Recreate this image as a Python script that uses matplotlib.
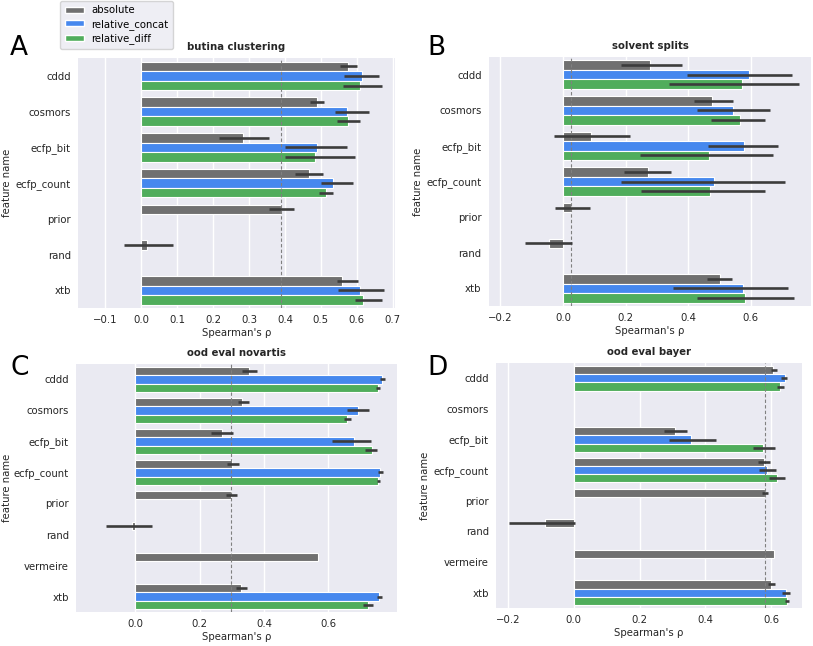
import numpy as np
import matplotlib
matplotlib.use("Agg")
import matplotlib.pyplot as plt
from matplotlib.patches import Patch

hues = ["absolute", "relative_concat", "relative_diff"]
colors = ["#707070", "#4688ee", "#50ad5c"]

# ---- panel A: butina clustering ----
cats_a = ["cddd", "cosmors", "ecfp_bit", "ecfp_count", "prior", "rand", "xtb"]
mean_a = {
    "absolute":        [0.574, 0.488, 0.283, 0.468, 0.389, 0.018, 0.559],
    "relative_concat": [0.614, 0.572, 0.488, 0.534, None, None, 0.609],
    "relative_diff":   [0.608, 0.575, 0.485, 0.514, None, None, 0.618],
}
lo_a = {
    "absolute":        [0.554, 0.471, 0.216, 0.429, 0.355, -0.046, 0.544],
    "relative_concat": [0.565, 0.540, 0.401, 0.500, None, None, 0.547],
    "relative_diff":   [0.561, 0.544, 0.401, 0.494, None, None, 0.596],
}
hi_a = {
    "absolute":        [0.600, 0.508, 0.356, 0.507, 0.425, 0.089, 0.603],
    "relative_concat": [0.662, 0.634, 0.572, 0.588, None, None, 0.674],
    "relative_diff":   [0.670, 0.608, 0.594, 0.534, None, None, 0.669],
}

# ---- panel B: solvent splits ----
cats_b = ["cddd", "cosmors", "ecfp_bit", "ecfp_count", "prior", "rand", "xtb"]
mean_b = {
    "absolute":        [0.278, 0.475, 0.089, 0.272, 0.027, -0.043, 0.501],
    "relative_concat": [0.595, 0.544, 0.577, 0.483, None, None, 0.574],
    "relative_diff":   [0.571, 0.564, 0.466, 0.469, None, None, 0.580],
}
lo_b = {
    "absolute":        [0.185, 0.417, -0.029, 0.195, -0.026, -0.121, 0.460],
    "relative_concat": [0.396, 0.427, 0.464, 0.185, None, None, 0.351],
    "relative_diff":   [0.339, 0.473, 0.245, 0.249, None, None, 0.428],
}
hi_b = {
    "absolute":        [0.379, 0.542, 0.215, 0.346, 0.085, 0.030, 0.540],
    "relative_concat": [0.731, 0.661, 0.685, 0.709, None, None, 0.718],
    "relative_diff":   [0.752, 0.646, 0.669, 0.646, None, None, 0.736],
}

# ---- panel C: ood eval novartis ----
cats_c = ["cddd", "cosmors", "ecfp_bit", "ecfp_count", "prior", "rand", "vermeire", "xtb"]
mean_c = {
    "absolute":        [0.354, 0.333, 0.269, 0.302, 0.299, -0.010, 0.569, 0.328],
    "relative_concat": [0.766, 0.691, 0.680, 0.760, None, None, None, 0.756],
    "relative_diff":   [0.753, 0.657, 0.734, 0.753, None, None, None, 0.722],
}
lo_c = {
    "absolute":        [0.331, 0.320, 0.237, 0.284, 0.283, -0.089, None, 0.313],
    "relative_concat": [0.760, 0.659, 0.612, 0.753, None, None, None, 0.749],
    "relative_diff":   [0.748, 0.647, 0.713, 0.749, None, None, None, 0.708],
}
hi_c = {
    "absolute":        [0.378, 0.352, 0.304, 0.324, 0.316, 0.054, None, 0.347],
    "relative_concat": [0.774, 0.727, 0.732, 0.769, None, None, None, 0.767],
    "relative_diff":   [0.760, 0.671, 0.752, 0.760, None, None, None, 0.738],
}

# ---- panel D: ood eval bayer ----
cats_d = ["cddd", "cosmors", "ecfp_bit", "ecfp_count", "prior", "rand", "vermeire", "xtb"]
mean_d = {
    "absolute":        [0.607, None, 0.309, 0.578, 0.582, -0.088, 0.610, 0.600],
    "relative_concat": [0.641, None, 0.357, 0.586, None, None, None, 0.646],
    "relative_diff":   [0.628, None, 0.575, 0.617, None, None, None, 0.647],
}
lo_d = {
    "absolute":        [0.598, None, 0.275, 0.560, 0.572, -0.197, None, 0.590],
    "relative_concat": [0.631, None, 0.290, 0.563, None, None, None, 0.634],
    "relative_diff":   [0.618, None, 0.544, 0.592, None, None, None, 0.641],
}
hi_d = {
    "absolute":        [0.619, None, 0.345, 0.597, 0.591, 0.003, None, 0.613],
    "relative_concat": [0.648, None, 0.433, 0.616, None, None, None, 0.658],
    "relative_diff":   [0.639, None, 0.611, 0.642, None, None, None, 0.654],
}

W, H = 813.0, 646.0
panels = [
    ("A", "butina clustering", cats_a, mean_a, lo_a, hi_a,
     [0.0959, 0.523, 0.390, 0.387], (-0.175, 0.706), [-0.1, 0.0, 0.1, 0.2, 0.3, 0.4, 0.5, 0.6, 0.7], 12),
    ("B", "solvent splits", cats_b, mean_b, lo_b, hi_b,
     [0.601, 0.526, 0.397, 0.386], (-0.237, 0.793), [-0.2, 0.0, 0.2, 0.4, 0.6], 423),
    ("C", "ood eval novartis", cats_c, mean_c, lo_c, hi_c,
     [0.0935, 0.0526, 0.395, 0.384], (-0.183, 0.813), [0.0, 0.2, 0.4, 0.6], 12),
    ("D", "ood eval bayer", cats_d, mean_d, lo_d, hi_d,
     [0.610, 0.059, 0.377, 0.379], (-0.237, 0.695), [-0.2, 0.0, 0.2, 0.4, 0.6], 430),
]
letter_pos = [(0.012, 0.915), (0.526, 0.915), (0.013, 0.4195), (0.526, 0.4195)]

fig = plt.figure(figsize=(8.13, 6.46), dpi=100)
bh = 0.8 / 3
fs = 7.3
tc = "#262626"

for (letter, title, cats, mean, lo, hi, rect, xlim, xticks, ylab_x), lp in zip(panels, letter_pos):
    ax = fig.add_axes(rect)
    ax.set_facecolor("#EAEAF2")
    for s in ax.spines.values():
        s.set_visible(False)
    ax.set_axisbelow(True)
    ax.xaxis.grid(True, color="white", lw=1.0)
    ax.yaxis.grid(False)
    ypos = np.arange(len(cats))
    for j, h in enumerate(hues):
        off = (j - 1) * bh
        for i in range(len(cats)):
            m = mean[h][i]
            if m is None:
                continue
            ax.barh(ypos[i] + off, m, height=bh, color=colors[j],
                    edgecolor="white", linewidth=0.8, zorder=2)
            if lo[h][i] is not None:
                ax.plot([lo[h][i], hi[h][i]], [ypos[i] + off] * 2,
                        color="#3c3c3c", lw=1.9, solid_capstyle="butt", zorder=3)
    prior_val = mean["absolute"][cats.index("prior")]
    ax.axvline(prior_val, color="#808080", lw=0.8, ls=(0, (3, 2)), zorder=2.5)
    ax.set_yticks(ypos)
    ax.set_yticklabels(cats, fontsize=fs, color=tc)
    ax.set_ylim(len(cats) - 0.5, -0.5)
    ax.set_xlim(*xlim)
    ax.set_xticks(xticks)
    ax.set_xticklabels([("%.1f" % t).replace("-", "\u2212") for t in xticks],
                       fontsize=fs, color=tc)
    ax.tick_params(length=0, pad=5)
    ax.set_xlabel("Spearman's ρ", fontsize=fs, color=tc, labelpad=2)
    ax.set_ylabel("feature name", fontsize=fs, color=tc)
    ax.yaxis.set_label_coords((ylab_x / W - rect[0]) / rect[2], 0.5)
    ax.set_title(title, fontsize=fs, fontweight="bold", color=tc, pad=6)
    fig.text(lp[0], lp[1], letter, fontsize=19, color="black", ha="left", va="baseline")

handles = [Patch(facecolor=c, edgecolor="white", label=h) for c, h in zip(colors, hues)]
fig.legend(handles=handles, loc="upper left", bbox_to_anchor=(0.0738, 0.999),
           fontsize=fs, frameon=True, facecolor="#EAEAF2", edgecolor="#cccccc",
           handlelength=1.9, handleheight=0.55, handletextpad=0.7,
           borderpad=0.45, labelspacing=0.35, borderaxespad=0.0)

fig.savefig("out.png", dpi=100)
